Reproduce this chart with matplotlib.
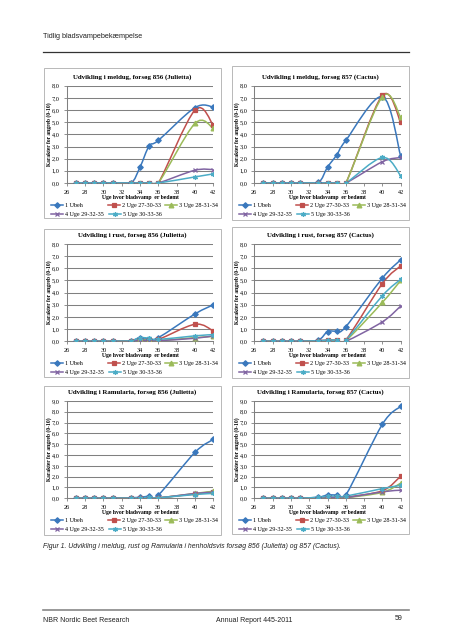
import numpy as np
import matplotlib
matplotlib.use('Agg')
import matplotlib.pyplot as plt
from matplotlib.path import Path
from matplotlib.patches import PathPatch, Rectangle
from matplotlib.lines import Line2D
from matplotlib.legend import Legend

W, H = 453, 640
SERIF = ['Liberation Serif', 'DejaVu Serif']
SANS = ['Liberation Sans', 'DejaVu Sans']

# Weeks where the leaf disease was scored
weeks = [27, 28, 29, 30, 31, 33, 34, 35, 36, 40, 42]
series_labels = ['1 Ubeh', '2 Uge 27-30-33', '3 Uge 28-31-34', '4 Uge 29-32-35', '5 Uge 30-33-36']

# Karakter for angreb (0-10), one row per treatment
meldug_856 = [
    [0, 0, 0, 0, 0, 0, 1.3, 3.05, 3.5, 6.2, 6.25],
    [0, 0, 0, 0, 0, 0, 0, 0, 0, 6.0, 4.75],
    [0, 0, 0, 0, 0, 0, 0, 0, 0, 4.9, 4.5],
    [0, 0, 0, 0, 0, 0, 0, 0, 0, 1.05, 1.1],
    [0, 0, 0, 0, 0, 0, 0, 0, 0, 0.5, 0.75],
]
meldug_857 = [
    [0, 0, 0, 0, 0, 0.05, 1.3, 2.3, 3.5, 7.1, 2.2],
    [0, 0, 0, 0, 0, 0, 0, 0, 0, 7.2, 5.0],
    [0, 0, 0, 0, 0, 0, 0, 0, 0, 7.1, 5.4],
    [0, 0, 0, 0, 0, 0, 0, 0, 0, 1.75, 2.1],
    [0, 0, 0, 0, 0, 0, 0, 0, 0, 2.1, 0.6],
]
rust_856 = [
    [0, 0, 0, 0, 0, 0.05, 0.3, 0.2, 0.3, 2.25, 3.0],
    [0, 0, 0, 0, 0, 0.05, 0.1, 0.1, 0.15, 1.4, 0.85],
    [0, 0, 0, 0, 0, 0, 0.15, 0.1, 0.05, 0.3, 0.4],
    [0, 0, 0, 0, 0, 0, 0.1, 0.05, 0.05, 0.25, 0.45],
    [0, 0, 0, 0, 0, 0.05, 0.3, 0.25, 0.15, 0.45, 0.55],
]
rust_857 = [
    [0, 0, 0, 0, 0, 0.1, 0.8, 0.85, 1.2, 5.2, 6.7],
    [0, 0, 0, 0, 0, 0.05, 0.1, 0.1, 0.1, 4.75, 6.2],
    [0, 0, 0, 0, 0, 0, 0.05, 0.05, 0.05, 3.2, 5.0],
    [0, 0, 0, 0, 0, 0, 0, 0, 0, 1.6, 2.9],
    [0, 0, 0, 0, 0, 0.05, 0.1, 0.1, 0.1, 3.75, 5.1],
]
ramularia_856 = [
    [0, 0, 0, 0, 0.02, 0.05, 0.1, 0.2, 0.3, 4.25, 5.45],
    [0, 0, 0, 0, 0, 0.02, 0.05, 0.05, 0.05, 0.4, 0.6],
    [0, 0, 0, 0, 0, 0, 0.02, 0.02, 0.02, 0.45, 0.65],
    [0, 0, 0, 0, 0, 0, 0.02, 0.02, 0.02, 0.45, 0.55],
    [0, 0, 0, 0, 0, 0.02, 0.05, 0.1, 0.05, 0.35, 0.45],
]
ramularia_857 = [
    [0, 0, 0, 0, 0, 0.1, 0.3, 0.3, 0.3, 6.85, 8.5],
    [0, 0, 0, 0, 0, 0.05, 0.1, 0.1, 0.1, 0.7, 2.05],
    [0, 0, 0, 0, 0, 0, 0.05, 0.05, 0.05, 0.55, 1.4],
    [0, 0, 0, 0, 0, 0, 0.05, 0.05, 0.05, 0.6, 0.75],
    [0, 0, 0, 0, 0, 0.1, 0.2, 0.2, 0.2, 0.9, 1.2],
]

COLORS = ['#3a78bd', '#c0504d', '#9bbb59', '#8064a2', '#4bacc6']
MARKERS = ['D', 's', '^', 'x', (6, 2, 0)]
MSIZES = [2.8, 3.0, 3.4, 3.4, 3.6]

# legend entry offsets from the chart box (x from left, row index)
LEG_POS = [(7, 0), (64, 0), (121, 0), (7, 1), (65, 1)]


def px_rect(x0, y0, x1, y1):
    return [x0 / W, 1 - y1 / H, (x1 - x0) / W, (y1 - y0) / H]


def smooth_path(x, y):
    # Excel style smoothed line: Catmull-Rom segments as cubic Bezier
    p = np.column_stack([x, y]).astype(float)
    n = len(p)
    verts = [p[0]]
    codes = [Path.MOVETO]
    for i in range(n - 1):
        p0 = p[max(i - 1, 0)]
        p1 = p[i]
        p2 = p[i + 1]
        p3 = p[min(i + 2, n - 1)]
        verts += [p1 + (p2 - p0) / 6.0, p2 - (p3 - p1) / 6.0, p2]
        codes += [Path.CURVE4] * 3
    return Path(verts, codes)


def draw_chart(fig, data, title, ymax, box, plot):
    bx0, by0, bx1, by1 = box
    px0, py0, px1, py1 = plot
    fig.patches.append(Rectangle((bx0 / W, 1 - by1 / H), (bx1 - bx0) / W, (by1 - by0) / H,
                                 transform=fig.transFigure, fill=False,
                                 edgecolor='#b8b8b8', linewidth=0.7))
    ax = fig.add_axes(px_rect(px0, py0, px1, py1))
    for k, vals in enumerate(data):
        ax.add_patch(PathPatch(smooth_path(weeks, vals), fill=False,
                               edgecolor=COLORS[k], linewidth=1.1, zorder=3 + k * 0.1))
        ax.plot(weeks, vals, linestyle='none', marker=MARKERS[k], markersize=MSIZES[k],
                color=COLORS[k], markeredgewidth=0.9, zorder=4 + k * 0.1)
    ax.set_xlim(26, 42)
    ax.set_ylim(0, ymax)
    ax.set_xticks(range(26, 43, 2))
    ax.set_yticks(range(0, ymax + 1))
    ax.set_yticklabels([f'{v},0' for v in range(0, ymax + 1)])
    ax.grid(axis='y', color='#808080', linewidth=0.75)
    ax.set_axisbelow(True)
    for s in ['top', 'right']:
        ax.spines[s].set_visible(False)
    for s in ['left', 'bottom']:
        ax.spines[s].set_color('#808080')
        ax.spines[s].set_linewidth(0.75)
    ax.tick_params(length=2, width=0.6, color='#808080', labelsize=4.5, pad=3)
    for lab in ax.get_xticklabels() + ax.get_yticklabels():
        lab.set_family(SERIF)

    cx = (bx0 + bx1) / 2
    fig.text(cx / W, 1 - (py0 - 8.5) / H, title, ha='center', va='center',
             family=SERIF, fontsize=4.95, fontweight='bold')
    fig.text((px0 + px1) / 2 / W, 1 - (py1 + 14) / H, 'Uge hvor bladsvamp  er bedømt',
             ha='center', va='center', family=SERIF, fontsize=4.1, fontweight='bold')
    fig.text((bx0 + 5) / W, 1 - (py0 + py1) / 2 / H, 'Karakter for angreb (0-10)',
             ha='center', va='center', rotation=90, family=SERIF, fontsize=4.0,
             fontweight='bold')

    for k in range(5):
        h = Line2D([], [], color=COLORS[k], marker=MARKERS[k], markersize=MSIZES[k],
                   markeredgewidth=0.9, linewidth=1.1)
        dx, row = LEG_POS[k]
        leg = Legend(ax, [h], [series_labels[k]], frameon=False,
                     prop={'family': SERIF, 'size': 4.4}, handlelength=2.0,
                     handletextpad=0.3, borderpad=0, borderaxespad=0, loc='center left',
                     bbox_to_anchor=((bx0 + dx) / W, 1 - (py1 + 22.5 + 8.6 * row) / H),
                     bbox_transform=fig.transFigure)
        ax.add_artist(leg)
    return ax


def main():
    fig = plt.figure(figsize=(W / 100, H / 100), dpi=100)

    charts = [
        (meldug_856, 'Udvikling i meldug, forsøg 856 (Julietta)', 8,
         (44, 68, 221, 218), (66.7, 85.7, 213.3, 183)),
        (meldug_857, 'Udvikling i meldug, forsøg 857 (Cactus)', 8,
         (232, 66, 409, 220), (254.3, 85.7, 400.7, 183)),
        (rust_856, 'Udvikling i rust, forsøg 856 (Julietta)', 8,
         (44, 229, 221, 377), (66.7, 244, 213.3, 341.3)),
        (rust_857, 'Udvikling i rust, forsøg 857 (Cactus)', 8,
         (232, 227, 409, 378), (254.3, 244, 400.7, 341.3)),
        (ramularia_856, 'Udvikling i Ramularia, forsøg 856 (Julietta)', 9,
         (44, 386, 221, 535), (66.7, 401, 213.3, 498.3)),
        (ramularia_857, 'Udvikling i Ramularia, forsøg 857 (Cactus)', 9,
         (232, 386, 409, 534), (254.3, 401, 400.7, 498.3)),
    ]
    for data, title, ymax, box, plot in charts:
        draw_chart(fig, data, title, ymax, box, plot)

    # Page header and footer
    fig.text(43 / W, 1 - 37 / H, 'Tidlig bladsvampebekæmpelse', family=SANS,
             fontsize=5.2, va='center', ha='left', color='#222222')
    fig.add_artist(Line2D([43 / W, 409 / W], [1 - 52.3 / H] * 2, color='#333333',
                          linewidth=0.9, transform=fig.transFigure))
    fig.text(43 / W, 1 - 546 / H,
             'Figur 1. Udvikling i meldug, rust og Ramularia i henholdsvis forsøg 856 (Julietta) og 857 (Cactus).',
             family=SANS, fontsize=4.95, style='italic', va='center', ha='left', color='#222222')
    fig.add_artist(Line2D([43 / W, 409 / W], [1 - 610 / H] * 2, color='#888888',
                          linewidth=1.2, transform=fig.transFigure))
    fig.text(43 / W, 1 - 620 / H, 'NBR Nordic Beet Research', family=SANS, fontsize=5.0,
             va='center', ha='left', color='#222222')
    fig.text(216 / W, 1 - 620 / H, 'Annual Report 445-2011', family=SANS, fontsize=5.0,
             va='center', ha='left', color='#222222')
    fig.text(403 / W, 1 - 619 / H, '59', family=SANS, fontsize=5.0,
             va='center', ha='right', color='#222222')

    fig.savefig('out.png', dpi=100)


if __name__ == '__main__':
    main()
